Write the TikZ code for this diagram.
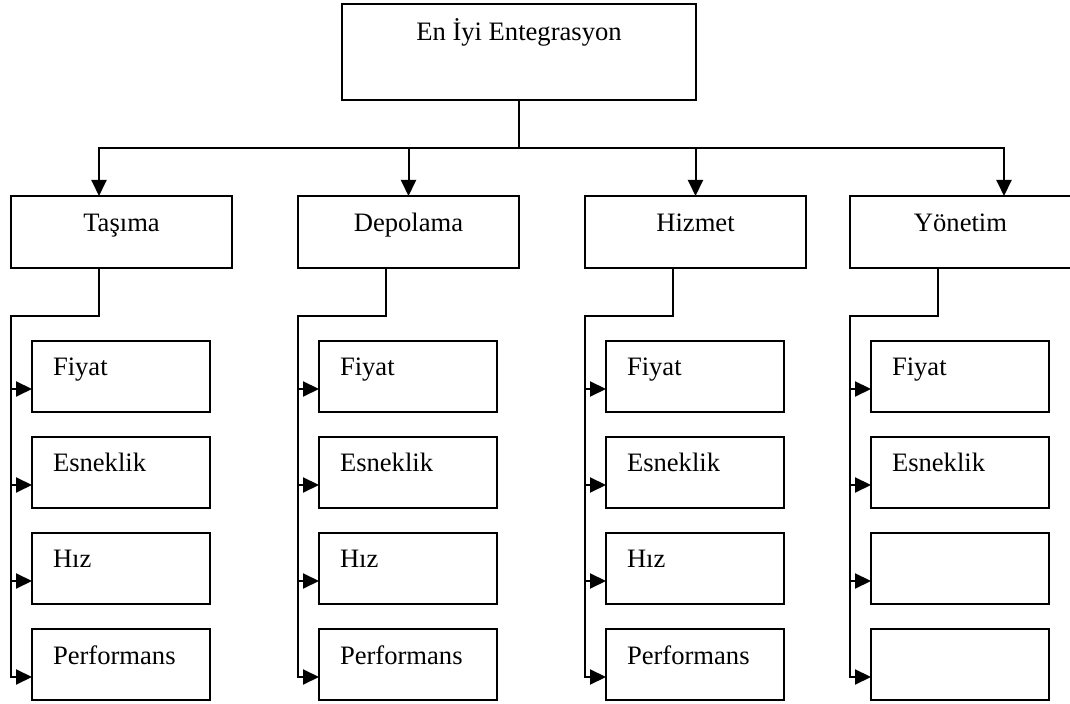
\documentclass[tikz,border=0pt]{standalone}
\usepackage{fontspec}
\setmainfont{Liberation Serif}
\usetikzlibrary{arrows.meta}
\begin{document}
\begin{tikzpicture}[x=0.5pt,y=-0.5pt,
  every node/.style={font=\fontsize{13.3}{15}\selectfont},
  box/.style={draw, line width=1pt, inner sep=0pt, outer sep=0pt, anchor=north west},
  rootbox/.style={box, minimum width=177pt, text height=18.5pt, text depth=29.5pt},
  groupbox/.style={box, minimum width=110.5pt, text height=18pt, text depth=18pt},
  itembox/.style={box, minimum width=89pt, text width=68pt, inner xsep=10.5pt,
                  align=left, text height=17.5pt, text depth=18pt},
  link/.style={line width=1pt},
  arr/.style={link, -{Triangle[length=8pt,width=7.5pt]}}]
\useasboundingbox (0,0) rectangle (1070,704);

% root of the tree
\node[rootbox] (root) at (342,4) {En İyi Entegrasyon};
\draw[link] (root.south) -- ++(0,48) coordinate (bus);

% four groups, each with its list of criteria
\foreach \n/\x/\lab/\la/\lb/\lc/\ld in {
    T/11/Taşıma/Fiyat/Esneklik/Hız/Performans,
    D/298/Depolama/Fiyat/Esneklik/Hız/Performans,
    H/585/Hizmet/Fiyat/Esneklik/Hız/Performans,
    Y/850/Yönetim/Fiyat/Esneklik/{}/{}}{
  \node[groupbox] (\n) at (\x,196) {\lab};
  \node[itembox] (\n1) at (\x+21,341) {\la};
  \node[itembox] (\n2) at (\x+21,437) {\lb};
  \node[itembox] (\n3) at (\x+21,533) {\lc};
  \node[itembox] (\n4) at (\x+21,629) {\ld};
  \foreach \k in {1,...,4}{
    \coordinate (a\n\k) at ([yshift=-6.25pt]\n\k.west);
  }
  \draw[arr] ([xshift=-11.25pt]\n.south) -- ++(0,48) -| (\n.west |- a\n4) -- (a\n4);
  \foreach \k in {1,2,3}{
    \draw[arr] (\n.west |- a\n\k) -- (a\n\k);
  }
}

% bus from the root down to the groups
\draw[arr] (bus) -| ([xshift=-11.25pt]T.north);
\draw[arr] (bus) -| (D.north);
\draw[arr] (bus) -| (H.north);
\draw[arr] (bus) -| ([xshift=21.75pt]Y.north);
\end{tikzpicture}
\end{document}
